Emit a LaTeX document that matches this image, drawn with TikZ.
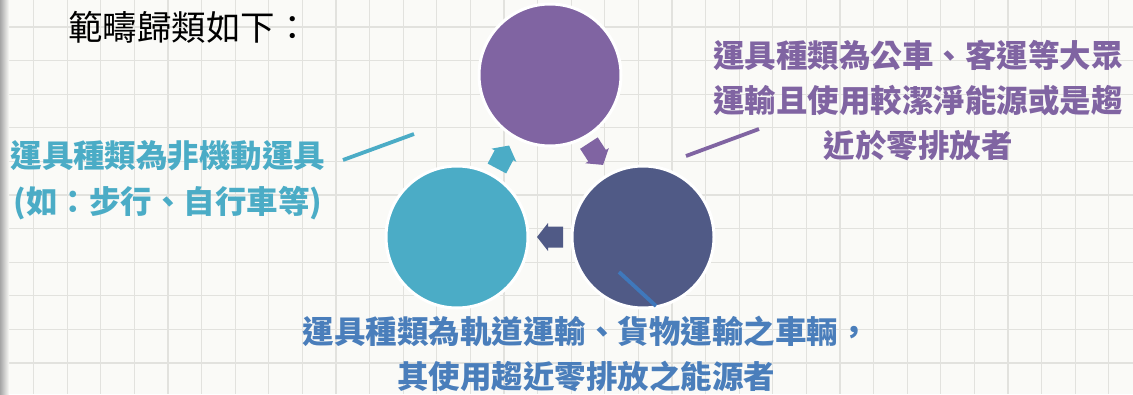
\documentclass[tikz,border=0pt]{standalone}
\usepackage{fontspec}
\newfontfamily\cjk{Noto Sans CJK TC}
\definecolor{bg}{HTML}{FAFAF7}
\definecolor{gridc}{HTML}{E2E2DE}
\definecolor{cteal}{HTML}{4BACC6}
\definecolor{cpurple}{HTML}{8064A2}
\definecolor{cdark}{HTML}{505A86}
\definecolor{cblue}{HTML}{4A7EBB}
\definecolor{cline}{HTML}{3F78BC}
\tikzset{
  gridline/.style={draw=gridc, line width=1.3pt},
  circ/.style={circle, draw=white, line width=3pt, inner sep=0pt, minimum size=142pt},
  leader/.style={line width=3.8pt},
  label/.style={font=\cjk\bfseries\fontsize{31.5}{46}\selectfont, align=center, inner sep=0pt},
  blockarrow/.pic={\fill (-13,-10.5) -- (2,-10.5) -- (2,-14) -- (13,0) -- (2,14) -- (2,10.5) -- (-13,10.5) -- cycle;}
}
\begin{document}
\begin{tikzpicture}[x=1pt,y=-1pt]
\useasboundingbox (0,0) rectangle (1133,394);
\fill[bg] (0,0) rectangle (1133,394);
\foreach \i in {1,...,33} \draw[gridline] (\i*33.6,0) -- (\i*33.6,394);
\foreach \j in {0,...,10} \draw[gridline] (0,27+\j*33.6) -- (1133,27+\j*33.6);
\shade[left color=black!35, right color=bg] (0,0) rectangle (9,394);

% title
\node[font=\cjk\fontsize{34.5}{40}\selectfont, anchor=west, inner sep=0pt] (title) at (68,27) {範疇歸類如下：};

% circles
\node[circ, fill=cpurple] (ctop) at (550,75) {};
\node[circ, fill=cteal] (cleft) at (457,237) {};
\node[circ, fill=cdark] (cright) at (643,237) {};

% cycle arrows
\pic[fill=cteal, rotate=62] at (503,157) {blockarrow};
\pic[fill=cpurple, rotate=-57] at (596,154) {blockarrow};
\pic[fill=cdark, rotate=180] at (550,237) {blockarrow};

% labels
\node[label, text=cteal] (tleft) at (168,180) {運具種類為非機動運具\\(如：步行、自行車等)};
\node[label, text=cpurple, font=\cjk\bfseries\fontsize{31.5}{45}\selectfont] (tright) at (918,100) {運具種類為公車、客運等大眾\\運輸且使用較潔淨能源或是趨\\近於零排放者};
\node[label, text=cblue, font=\cjk\bfseries\fontsize{31.5}{45}\selectfont] (tbottom) at (586,354) {運具種類為軌道運輸、貨物運輸之車輛，\\其使用趨近零排放之能源者};

% leader lines
\coordinate (la) at (343,160);
\coordinate (lb) at (414,134);
\draw[leader, cteal] (la) -- (lb);
\coordinate (pa) at (686,156);
\coordinate (pb) at (759,129);
\draw[leader, cpurple] (pa) -- (pb);
\coordinate (ba) at (619,272);
\coordinate (bb) at (656,306);
\draw[leader, cline] (ba) -- (bb);
\end{tikzpicture}
\end{document}
